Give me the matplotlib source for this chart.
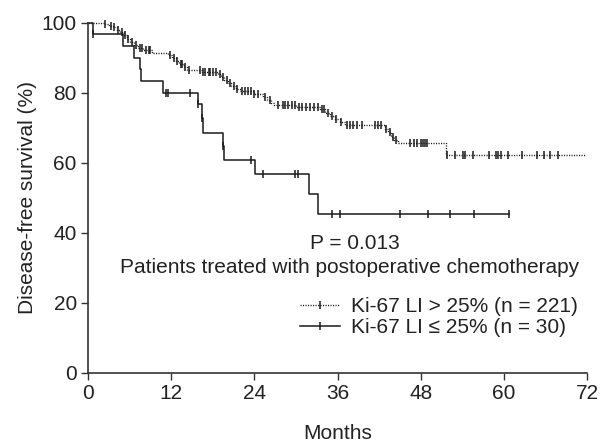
import numpy as np
import matplotlib.pyplot as plt
from matplotlib.lines import Line2D

plt.rcParams['font.family'] = ['Liberation Sans', 'DejaVu Sans']

# Ki-67 LI > 25% (n = 221): event times (months) and survival (%) after each drop
hi_times = [2.3, 3.0, 3.6, 4.2, 4.7, 5.2, 5.6, 6.1, 6.6, 7.2, 8.0, 9.2,
            11.6, 12.2, 12.7, 13.2, 13.8, 14.3, 16.5, 18.8,
            19.2, 19.7, 20.2, 20.7, 21.3, 21.9, 24.0,
            25.3, 25.9, 26.4, 26.8, 30.0, 33.5,
            34.2, 34.9, 35.6, 36.3, 37.1,
            42.8, 43.3, 43.7, 44.2, 44.7, 51.6, 51.7]
hi_surv = [99.5, 99.1, 98.6, 97.9, 97.2, 96.3, 95.4, 94.3, 93.5, 92.7, 92.2, 91.3,
           90.8, 89.9, 89.0, 88.1, 87.2, 86.4, 85.9, 85.4,
           84.5, 83.6, 82.7, 81.8, 80.9, 80.4, 79.5,
           78.7, 77.8, 76.9, 76.4, 75.9, 75.2,
           74.3, 73.4, 72.5, 71.6, 70.7,
           69.7, 68.6, 67.4, 66.5, 65.6, 64.0, 62.1]
hi_censor = [2.5, 3.3, 3.8, 4.4, 4.9, 5.4, 5.8, 6.3, 6.9, 7.5, 7.8, 8.4, 8.8, 9.0,
             11.8, 12.4, 12.9, 13.4, 13.6, 14.0, 14.6,
             16.2, 16.6, 16.9, 17.4, 17.6, 18.0, 18.5, 19.0,
             19.5, 20.0, 20.5, 21.0, 21.5,
             22.2, 22.7, 23.1, 23.5, 24.0, 24.5, 25.6, 26.2,
             27.4, 28.1, 28.4, 28.9, 29.4, 29.9, 30.4, 30.9, 31.5, 32.0, 32.6, 33.2, 33.8,
             34.0, 34.6, 35.2, 35.8, 36.5,
             37.4, 37.8, 38.2, 38.8, 39.5, 41.4, 41.8, 42.3,
             43.0, 43.5, 44.0, 44.4,
             46.5, 47.0, 47.5, 48.0, 48.3, 48.6, 48.9,
             51.8, 52.9, 54.1, 54.4, 55.6, 57.9, 58.9, 59.2, 59.6, 60.6,
             62.6, 64.8, 65.7, 66.7, 67.8]
hi_end = 71.8

# Ki-67 LI <= 25% (n = 30)
lo_times = [0.7, 5.1, 6.7, 7.5, 7.6, 10.9, 15.9, 16.5, 16.6, 19.5, 19.6, 24.1, 31.9, 33.2]
lo_surv = [96.7, 93.3, 90.0, 86.7, 83.3, 80.0, 76.6, 72.6, 68.5, 64.7, 60.7, 56.7, 51.0, 45.3]
lo_censor = [0.7, 11.2, 11.5, 14.7, 15.9, 16.5, 19.5, 23.5, 25.3, 29.9, 30.3,
             35.2, 36.3, 45.0, 49.0, 52.2, 55.7, 60.7]
lo_end = 60.7


def km_steps(times, surv, end):
    t = np.concatenate([[0], times, [end]])
    s = np.concatenate([[100], surv, [surv[-1]]])
    return t, s


def surv_at(times, surv, c):
    idx = np.searchsorted(times, c, side='right')
    return np.concatenate([[100], surv])[idx]


fs = 15
fig = plt.figure(figsize=(6.06, 4.42), dpi=100)
ax = fig.add_axes([0.145, 0.157, 0.824, 0.792])

col = '#1a1a1a'
dots = (0, (0.8, 1.0))
t, s = km_steps(hi_times, hi_surv, hi_end)
ax.step(t, s, where='post', color=col, lw=1.0, ls=dots, clip_on=False)
ax.plot(hi_censor, surv_at(hi_times, hi_surv, hi_censor), ls='none', marker='|',
        ms=6, mew=1.1, color=col, clip_on=False)

t, s = km_steps(lo_times, lo_surv, lo_end)
ax.step(t, s, where='post', color=col, lw=1.1, clip_on=False)
ax.plot(lo_censor, surv_at(lo_times, lo_surv, lo_censor), ls='none', marker='|',
        ms=6, mew=1.1, color=col, clip_on=False)

ax.set_xlim(0, 72)
ax.set_ylim(0, 100)
ax.set_xticks(range(0, 73, 12))
ax.set_yticks(range(0, 101, 20))
ax.spines['top'].set_visible(False)
ax.spines['right'].set_visible(False)
for sp in ['left', 'bottom']:
    ax.spines[sp].set_linewidth(1.2)
    ax.spines[sp].set_color('#333333')
ax.tick_params(length=5, width=1.0, colors='#333333', labelsize=fs, labelcolor='#222222',
               pad=3)
ax.set_xlabel('Months', fontsize=fs, labelpad=15, color='#222222')
ax.set_ylabel('Disease-free survival (%)', fontsize=fs, labelpad=3, color='#222222')

ax.text(38.5, 37.0, 'P = 0.013', fontsize=fs, ha='center', va='center', color='#222222')
ax.text(37.8, 29.9, 'Patients treated with postoperative chemotherapy', fontsize=fs,
        ha='center', va='center', color='#222222')

handles = [Line2D([], [], color=col, lw=1.0, ls=dots, marker='|', ms=6, mew=1.1),
           Line2D([], [], color=col, lw=1.1, marker='|', ms=6, mew=1.1)]
labels = ['Ki-67 LI > 25% (n = 221)', 'Ki-67 LI \u2264 25% (n = 30)']
leg = ax.legend(handles, labels, loc='upper left', bbox_to_anchor=(0.425, 0.215),
                frameon=False, fontsize=fs, handlelength=1.9, handletextpad=0.55,
                labelspacing=0.1, borderaxespad=0, borderpad=0, numpoints=1)
for txt in leg.get_texts():
    txt.set_color('#222222')

fig.savefig('out.png', dpi=100)
